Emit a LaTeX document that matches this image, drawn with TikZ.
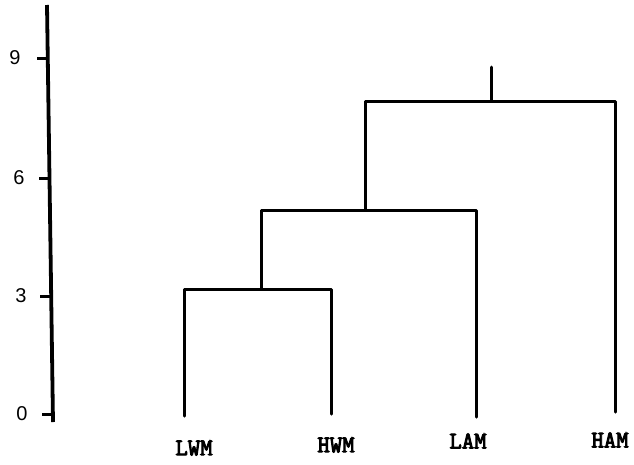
\documentclass[tikz,border=0pt]{standalone}
\usepackage{fontspec}
\setmainfont{Liberation Sans}
\newfontfamily\typewr[FakeBold=4]{Latin Modern Mono}
\usetikzlibrary{positioning,calc}

\begin{document}
\begin{tikzpicture}
[x=1pt,y=-1pt,
   lb/.style={font=\typewr\fontsize{24}{26}\selectfont,inner sep=0pt},
   val/.style={font=\fontsize{20}{22}\selectfont,inner sep=0pt},
   branch/.style={line width=3pt,line cap=round,line join=round},
   axis/.style={line width=3.8pt}]
\useasboundingbox (0,0) rectangle (634,464);

% scale
\coordinate (atop) at (47,5);
\coordinate (abot) at (53,422);
\draw[axis] (atop) -- (abot);
\foreach \v/\y/\xa/\xl in {9/58/48/15,6/178/50/19,3/296/51/21,0/414/53/22}{
   \node[val] (v\v) at (\xl,\y) {\v};
   \draw[axis,line width=3pt] (\xa-11,\y) -- (\xa,\y);
}

% leaves
\node[lb] (lwm) at (194,448) {LWM};
\node[lb] (hwm) at (336,445) {HWM};
\node[lb] (lam) at (468,441) {LAM};
\node[lb] (ham) at (610,440) {HAM};
\coordinate (lwmtop) at (184,416);
\coordinate (hwmtop) at (331,414);
\coordinate (lamtop) at (476,417);
\coordinate (hamtop) at (615,412);

% merges
\coordinate (m1) at (261,289);
\coordinate (m2) at (365,210);
\coordinate (m3) at (491,101);
\coordinate (root) at (491,67);

\draw[branch] (lwmtop) |- (m1) -| (hwmtop);
\draw[branch] (m1) |- (m2) -| (lamtop);
\draw[branch] (m2) |- (m3) -| (hamtop);
\draw[branch] (m3) -- (root);
%%
\end{tikzpicture}
\end{document}
